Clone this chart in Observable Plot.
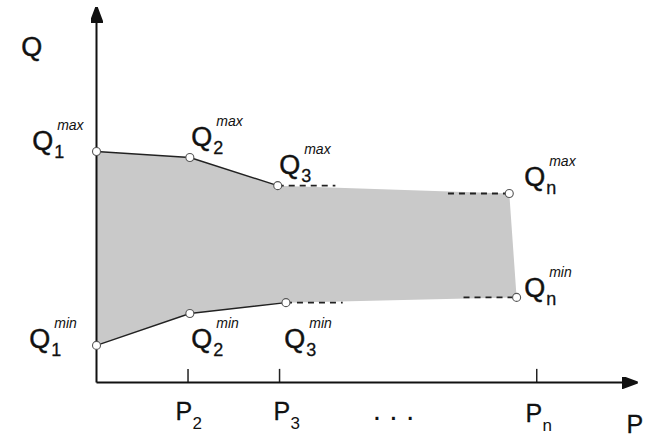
<!DOCTYPE html>
<html>
<head>
<meta charset="utf-8">
<script src="https://cdn.jsdelivr.net/npm/d3@7"></script>
<script src="https://cdn.jsdelivr.net/npm/@observablehq/plot@0.6"></script>
<style>
  html, body { margin: 0; padding: 0; background: #fff; }
</style>
</head>
<body>
<div id="chart"></div>
<script>
// ---- data (P, Q units) ----
const upperP = [0, 1.02, 1.98, 4.51];
const upperQ = [6.16, 6.00, 5.25, 5.04];
const lowerP = [0, 1.02, 2.07, 4.59];
const lowerQ = [0.99, 1.84, 2.13, 2.27];
const tickP = [1, 2, 4.81];
const tickNames = ["2", "3", "n"];
const dashUpperEnds = [2.61, 3.84];
const dashLowerEnds = [2.69, 4.01];

// annotation anchors (P, Q units)
const qLabelP = [-0.703, 1.035, 1.996, 4.673, -0.735, 1.035, 2.051, 4.673];
const qLabelQ = [6.19, 6.32, 5.57, 5.25, 0.91, 0.93, 0.93, 2.29];
const qLabelSub = ["1", "2", "3", "n", "1", "2", "3", "n"];
const qLabelSup = ["max", "max", "max", "max", "min", "min", "min", "min"];
const pLabelP = [0.863, 1.934, 4.687];
const pLabelQ = [-0.99, -0.99, -1.04];

// ---- derived tables ----
const upper = upperP.map((p, i) => ({p, q: upperQ[i]}));
const lower = lowerP.map((p, i) => ({p, q: lowerQ[i]}));
const polygon = [...upper, ...lower.slice().reverse()];
const solidUpper = upper.slice(0, 3);
const solidLower = lower.slice(0, 3);
const dashes = [
  {x1: upperP[2], x2: dashUpperEnds[0], y: upperQ[2]},
  {x1: dashUpperEnds[1], x2: upperP[3], y: upperQ[3]},
  {x1: lowerP[2], x2: dashLowerEnds[0], y: lowerQ[2]},
  {x1: dashLowerEnds[1], x2: lowerP[3], y: lowerQ[3]}
];
const points = [...upper, ...lower];
const qLabels = qLabelP.map((p, i) => ({p, q: qLabelQ[i], sub: qLabelSub[i], sup: qLabelSup[i]}));
const pLabels = pLabelP.map((p, i) => ({p, q: pLabelQ[i], sub: tickNames[i]}));
const axes = [
  {x1: 0, y1: 0, x2: 0, y2: 10},
  {x1: 0, y1: 0, x2: 5.9, y2: 0}
];

const FONT = "'Liberation Sans', Arial, Helvetica, sans-serif";
const INK = "#111";
const bold = {stroke: INK, strokeWidth: 0.45, paintOrder: "fill"};

function arrowHead() {
  return d3.create("svg:marker")
    .attr("viewBox", "0 -6 16 12")
    .attr("markerWidth", 16)
    .attr("markerHeight", 12)
    .attr("markerUnits", "userSpaceOnUse")
    .attr("refX", 15)
    .attr("refY", 0)
    .attr("orient", "auto")
    .call(m => m.append("path").attr("d", "M0,-6L16,0L0,6Z").attr("fill", "#111"))
    .node();
}

const chart = Plot.plot({
  width: 647,
  height: 439,
  x: {domain: [0, 5.9], range: [96, 636], axis: null},
  y: {domain: [0, 10], range: [382, 7], axis: null},
  style: {background: "#fff", fontFamily: FONT},
  marks: [
    Plot.line(polygon, {x: "p", y: "q", fill: "#c9c9c9", stroke: "none"}),
    Plot.line(solidUpper, {x: "p", y: "q", stroke: "#222", strokeWidth: 1.4}),
    Plot.line(solidLower, {x: "p", y: "q", stroke: "#222", strokeWidth: 1.4}),
    Plot.link(dashes, {x1: "x1", x2: "x2", y1: "y", y2: "y", stroke: "#222", strokeWidth: 1.8, strokeDasharray: "6,5"}),
    Plot.ruleX(tickP, {y1: 0, y2: 0.35, stroke: "#222", strokeWidth: 1.5}),
    Plot.link(axes, {x1: "x1", y1: "y1", x2: "x2", y2: "y2", stroke: "#111", strokeWidth: 2, markerEnd: arrowHead}),
    Plot.dot(points, {x: "p", y: "q", r: 4, fill: "#fff", stroke: "#555", strokeWidth: 1.1}),
    // Q point labels
    Plot.text(qLabels, {x: "p", y: "q", text: () => "Q", fontSize: 27, fontFamily: FONT, textAnchor: "start", lineAnchor: "bottom", fill: INK, ...bold}),
    Plot.text(qLabels, {x: "p", y: "q", text: "sub", dx: 22, dy: 8, fontSize: 18, fontFamily: FONT, textAnchor: "start", lineAnchor: "bottom", fill: INK, ...bold, strokeWidth: 0.3}),
    Plot.text(qLabels, {x: "p", y: "q", text: "sup", dx: 25, dy: -20, fontSize: 14, fontStyle: "italic", fontFamily: FONT, textAnchor: "start", lineAnchor: "bottom", fill: INK}),
    // P tick labels
    Plot.text(pLabels, {x: "p", y: "q", text: () => "P", fontSize: 25, fontFamily: FONT, textAnchor: "start", lineAnchor: "bottom", fill: INK, ...bold, strokeWidth: 0.3}),
    Plot.text(pLabels, {x: "p", y: "q", text: "sub", dx: 17, dy: 9, fontSize: 17, fontFamily: FONT, textAnchor: "start", lineAnchor: "bottom", fill: INK}),
    // ellipsis
    Plot.text([{p: 3.245, q: -1.01}], {x: "p", y: "q", text: () => ". . .", fontSize: 30, fontFamily: FONT, textAnchor: "middle", lineAnchor: "bottom", fill: INK}),
    // axis titles
    Plot.text([{p: -0.823, q: 8.72}], {x: "p", y: "q", text: () => "Q", fontSize: 27, fontFamily: FONT, textAnchor: "start", lineAnchor: "bottom", fill: INK, ...bold}),
    Plot.text([{p: 5.791, q: -1.35}], {x: "p", y: "q", text: () => "P", fontSize: 25, fontFamily: FONT, textAnchor: "start", lineAnchor: "bottom", fill: INK, ...bold, strokeWidth: 0.3})
  ]
});
document.getElementById("chart").appendChild(chart);
</script>
</body>
</html>
